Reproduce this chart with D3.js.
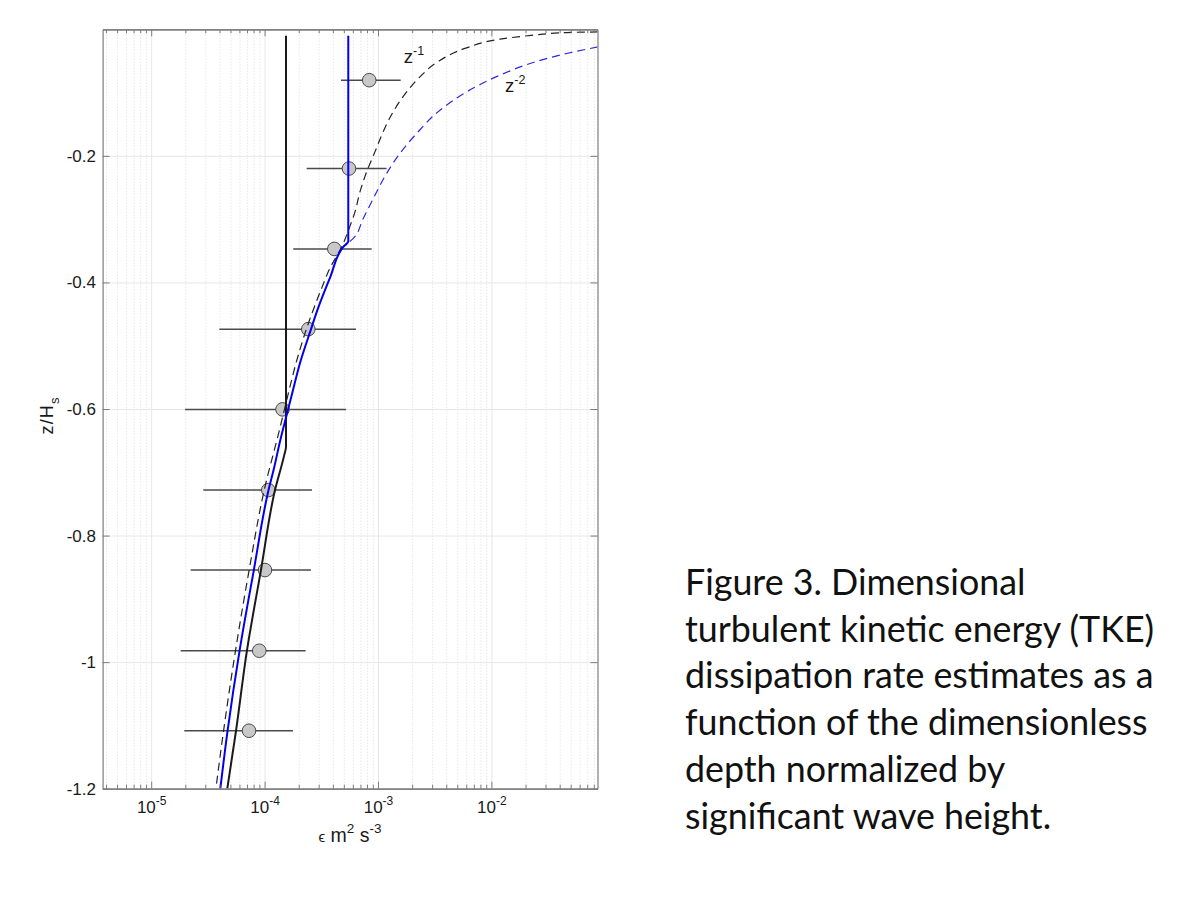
<!DOCTYPE html>
<html>
<head>
<meta charset="utf-8">
<script src="https://cdn.jsdelivr.net/npm/d3@7"></script>
<style>
  body { margin: 0; background: #fff; }
  svg { display: block; }
</style>
</head>
<body>
<svg id="chart" width="1200" height="900"></svg>
<script>
// ---- data ----
// observed dissipation: depth z/Hs, epsilon and the error bar limits
var depth   = [-0.0804, -0.2200, -0.3470, -0.4738, -0.6006, -0.7281, -0.8545, -0.9820, -1.1084];
var epsObs  = [8.37e-4, 5.55e-4, 4.12e-4, 2.43e-4, 1.44e-4, 1.078e-4, 1.008e-4, 8.98e-5, 7.29e-5];
var epsLow  = [4.72e-4, 2.35e-4, 1.79e-4, 3.99e-5, 1.99e-5, 2.88e-5, 2.23e-5, 1.82e-5, 1.96e-5];
var epsHigh = [1.585e-3, 1.19e-3, 8.8e-4, 6.4e-4, 5.22e-4, 2.62e-4, 2.56e-4, 2.30e-4, 1.78e-4];

// model curves as [z/Hs, epsilon]
var zInvCurve = [   // black dashed, "z^-1"
  [-0.0041, 8.71e-2], [-0.0051, 4.61e-2], [-0.0093, 2.34e-2], [-0.0156, 1.19e-2],
  [-0.0294, 6.05e-3], [-0.0524, 3.30e-3], [-0.0752, 2.34e-3], [-0.0989, 1.79e-3],
  [-0.1305, 1.36e-3], [-0.1621, 1.11e-3], [-0.1937, 9.40e-4], [-0.2253, 7.94e-4],
  [-0.2569, 6.93e-4], [-0.2885, 6.27e-4], [-0.3147, 5.56e-4], [-0.3400, 4.90e-4],
  [-0.3800, 3.71e-4], [-0.4070, 3.22e-4], [-0.4754, 2.32e-4], [-0.5280, 1.89e-4],
  [-0.5860, 1.567e-4], [-0.6333, 1.352e-4], [-0.7280, 9.93e-5], [-0.8545, 7.31e-5],
  [-0.9810, 5.55e-5], [-1.1084, 4.35e-5], [-1.2000, 3.72e-5]
];
var zInv2Curve = [  // blue dashed, "z^-2"
  [-0.0278, 8.71e-2], [-0.0382, 4.61e-2], [-0.0524, 2.34e-2], [-0.0725, 1.19e-2],
  [-0.0989, 6.05e-3], [-0.1278, 3.52e-3], [-0.1646, 2.19e-3], [-0.1962, 1.56e-3],
  [-0.2278, 1.19e-3], [-0.2673, 9.10e-4], [-0.2989, 7.41e-4], [-0.3305, 6.05e-4],
  [-0.3438, 4.94e-4]
];
var blackModel = [  // black solid
  [-0.0100, 1.545e-4], [-0.6597, 1.545e-4], [-0.6729, 1.49e-4], [-0.7280, 1.236e-4],
  [-0.8545, 9.29e-5], [-0.9810, 7.00e-5], [-1.1084, 5.60e-5], [-1.2000, 4.69e-5]
];
var blueModel = [   // blue solid
  [-0.0100, 5.47e-4], [-0.3350, 5.47e-4], [-0.3438, 4.94e-4], [-0.3912, 3.80e-4],
  [-0.4438, 2.92e-4], [-0.4754, 2.55e-4], [-0.5227, 2.09e-4], [-0.5754, 1.75e-4],
  [-0.6070, 1.578e-4], [-0.6490, 1.377e-4], [-0.6965, 1.20e-4], [-0.7280, 1.084e-4],
  [-0.8545, 8.04e-5], [-0.9810, 6.03e-5], [-1.1084, 4.72e-5], [-1.2000, 4.07e-5]
];

var xLimits = [3.73e-6, 0.0862];
var yLimits = [-1.2, 0];
var xMajor = [1e-5, 1e-4, 1e-3, 1e-2];
var xExponents = ["-5", "-4", "-3", "-2"];
var yTicks = [-1.2, -1, -0.8, -0.6, -0.4, -0.2];
var yTickLabels = ["-1.2", "-1", "-0.8", "-0.6", "-0.4", "-0.2"];

var caption = [
  "Figure 3. Dimensional",
  "turbulent kinetic energy (TKE)",
  "dissipation rate estimates as a",
  "function of the dimensionless",
  "depth normalized by",
  "significant wave height."
];

// ---- layout ----
var svg = d3.select("#chart");
var plotLeft = 102.6, plotRight = 597.5, plotTop = 29.3, plotBottom = 788.7;
var font = "'Liberation Sans', Arial, Helvetica, sans-serif";
var axisColor = "#7d7d7d";

var x = d3.scaleLog().domain(xLimits).range([plotLeft, plotRight]);
var y = d3.scaleLinear().domain(yLimits).range([plotBottom, plotTop]);

// minor ticks 2..9 of every decade inside the limits
var xMinor = [];
for (var e = -6; e <= -1; e++) {
  for (var m = 2; m <= 9; m++) {
    var v = m * Math.pow(10, e);
    if (v >= xLimits[0] && v <= xLimits[1]) xMinor.push(v);
  }
}

// ---- grid ----
var grid = svg.append("g");
grid.append("g")
  .attr("transform", "translate(0," + plotBottom + ")")
  .call(d3.axisBottom(x).tickValues(xMinor).tickSize(-(plotBottom - plotTop)).tickFormat(""))
  .call(function(g) {
    g.select(".domain").remove();
    g.selectAll("line").attr("stroke", "#d4d4d4").attr("stroke-width", 0.8).attr("stroke-dasharray", "1,2");
  });
grid.append("g")
  .attr("transform", "translate(0," + plotBottom + ")")
  .call(d3.axisBottom(x).tickValues(xMajor).tickSize(-(plotBottom - plotTop)).tickFormat(""))
  .call(function(g) {
    g.select(".domain").remove();
    g.selectAll("line").attr("stroke", "#e4e4e4").attr("stroke-width", 0.9);
  });
grid.append("g")
  .attr("transform", "translate(" + plotLeft + ",0)")
  .call(d3.axisLeft(y).tickValues(yTicks).tickSize(-(plotRight - plotLeft)).tickFormat(""))
  .call(function(g) {
    g.select(".domain").remove();
    g.selectAll("line").attr("stroke", "#e4e4e4").attr("stroke-width", 0.9);
  });

// ---- curves ----
svg.append("defs").append("clipPath").attr("id", "plotArea")
  .append("rect")
  .attr("x", plotLeft).attr("y", plotTop)
  .attr("width", plotRight - plotLeft).attr("height", plotBottom - plotTop);

var line = d3.line()
  .x(function(d) { return x(d[1]); })
  .y(function(d) { return y(d[0]); })
  .curve(d3.curveMonotoneY);

var plot = svg.append("g").attr("clip-path", "url(#plotArea)");

// error bars and observations
plot.selectAll(".errbar")
  .data(depth)
  .enter().append("line")
  .attr("class", "errbar")
  .attr("x1", function(d, i) { return x(epsLow[i]); })
  .attr("x2", function(d, i) { return x(epsHigh[i]); })
  .attr("y1", function(d) { return y(d); })
  .attr("y2", function(d) { return y(d); })
  .attr("stroke", "#4a4a4a")
  .attr("stroke-width", 1.5);

plot.selectAll(".obs")
  .data(depth)
  .enter().append("circle")
  .attr("class", "obs")
  .attr("cx", function(d, i) { return x(epsObs[i]); })
  .attr("cy", function(d) { return y(d); })
  .attr("r", 6.8)
  .attr("fill", "#c8c8c8")
  .attr("stroke", "#383838")
  .attr("stroke-width", 0.9);

plot.append("path").datum(zInvCurve)
  .attr("d", line)
  .attr("fill", "none")
  .attr("stroke", "#222")
  .attr("stroke-width", 1.2)
  .attr("stroke-dasharray", "8,5");

plot.append("path").datum(zInv2Curve)
  .attr("d", line)
  .attr("fill", "none")
  .attr("stroke", "#2a2ae0")
  .attr("stroke-width", 1.2)
  .attr("stroke-dasharray", "8,5");

plot.append("path").datum(blackModel)
  .attr("d", line)
  .attr("fill", "none")
  .attr("stroke", "#1a1a1a")
  .attr("stroke-width", 2);

plot.append("path").datum(blueModel)
  .attr("d", line)
  .attr("fill", "none")
  .attr("stroke", "#0000ee")
  .attr("stroke-width", 2);

// ---- axes (box with inward ticks) ----
function styleAxis(g) {
  g.select(".domain").attr("stroke", axisColor).attr("stroke-width", 1.2);
  g.selectAll(".tick line").attr("stroke", axisColor).attr("stroke-width", 1);
}

var xAxis = svg.append("g")
  .attr("transform", "translate(0," + plotBottom + ")")
  .call(d3.axisBottom(x).tickValues(xMajor).tickSizeInner(-7).tickSizeOuter(0).tickPadding(12.5))
  .call(styleAxis);
xAxis.selectAll(".tick text")
  .attr("fill", "#1a1a1a")
  .style("font-family", font)
  .style("font-size", "17px")
  .each(function(d, i) {
    var t = d3.select(this).text("");
    t.append("tspan").text("10");
    t.append("tspan").attr("dy", -8).style("font-size", "12px").text(xExponents[i]);
  });

svg.append("g")
  .attr("transform", "translate(0," + plotBottom + ")")
  .call(d3.axisBottom(x).tickValues(xMinor).tickSizeInner(-4).tickSizeOuter(0).tickFormat(""))
  .call(styleAxis);

svg.append("g")
  .attr("transform", "translate(0," + plotTop + ")")
  .call(d3.axisTop(x).tickValues(xMajor).tickSizeInner(-7).tickSizeOuter(0).tickFormat(""))
  .call(styleAxis);
svg.append("g")
  .attr("transform", "translate(0," + plotTop + ")")
  .call(d3.axisTop(x).tickValues(xMinor).tickSizeInner(-4).tickSizeOuter(0).tickFormat(""))
  .call(styleAxis);

var yAxis = svg.append("g")
  .attr("transform", "translate(" + plotLeft + ",0)")
  .call(d3.axisLeft(y).tickValues(yTicks).tickSizeInner(-7).tickSizeOuter(0).tickPadding(6.6)
    .tickFormat(function(d, i) { return yTickLabels[i]; }))
  .call(styleAxis);
yAxis.selectAll(".tick text")
  .attr("fill", "#1a1a1a")
  .style("font-family", font)
  .style("font-size", "17px");

svg.append("g")
  .attr("transform", "translate(" + plotRight + ",0)")
  .call(d3.axisRight(y).tickValues(yTicks).tickSizeInner(-7).tickSizeOuter(0).tickFormat(""))
  .call(styleAxis);

// ---- axis titles ----
var xTitle = svg.append("text")
  .attr("x", (plotLeft + plotRight) / 2)
  .attr("y", 841.5)
  .attr("text-anchor", "middle")
  .attr("fill", "#1a1a1a")
  .style("font-family", font)
  .style("font-size", "19.5px");
xTitle.append("tspan").style("font-size", "15px").text("\u03F5");
xTitle.append("tspan").text(" m");
xTitle.append("tspan").attr("dy", -9).style("font-size", "13.5px").text("2");
xTitle.append("tspan").attr("dy", 9).text(" s");
xTitle.append("tspan").attr("dy", -9).style("font-size", "13.5px").text("-3");

var yTitle = svg.append("text")
  .attr("transform", "translate(53.3,416) rotate(-90)")
  .attr("text-anchor", "middle")
  .attr("fill", "#1a1a1a")
  .style("font-family", font)
  .style("font-size", "18px")
  .style("letter-spacing", "1.2px");
yTitle.append("tspan").text("z/H");
yTitle.append("tspan").attr("dy", 6).style("font-size", "13px").style("letter-spacing", "0px").text("s");

// curve labels
function powerLabel(px, py, exp) {
  var t = svg.append("text")
    .attr("x", px).attr("y", py)
    .attr("fill", "#1a1a1a")
    .style("font-family", font)
    .style("font-size", "18.5px");
  t.append("tspan").text("z");
  t.append("tspan").attr("dy", -8).style("font-size", "12.5px").text(exp);
}
powerLabel(x(1.69e-3), 63, "-1");
powerLabel(x(1.32e-2), 92, "-2");

// ---- caption ----
var capLines = svg.append("g").selectAll("text")
  .data(caption)
  .enter().append("text")
  .attr("x", 685)
  .attr("y", function(d, i) { return 595 + i * 46.7; })
  .attr("fill", "#111")
  .style("font-family", "Lato, 'Open Sans', sans-serif")
  .style("font-weight", 400)
  .style("font-size", "40px")
  .text(function(d) { return d; });

// fit the widest line to the measured width in the figure
var measured = capLines.nodes()[2].getComputedTextLength();
var fitted = 40 * 468 / measured;
capLines.style("font-size", fitted.toFixed(1) + "px");
</script>
</body>
</html>
